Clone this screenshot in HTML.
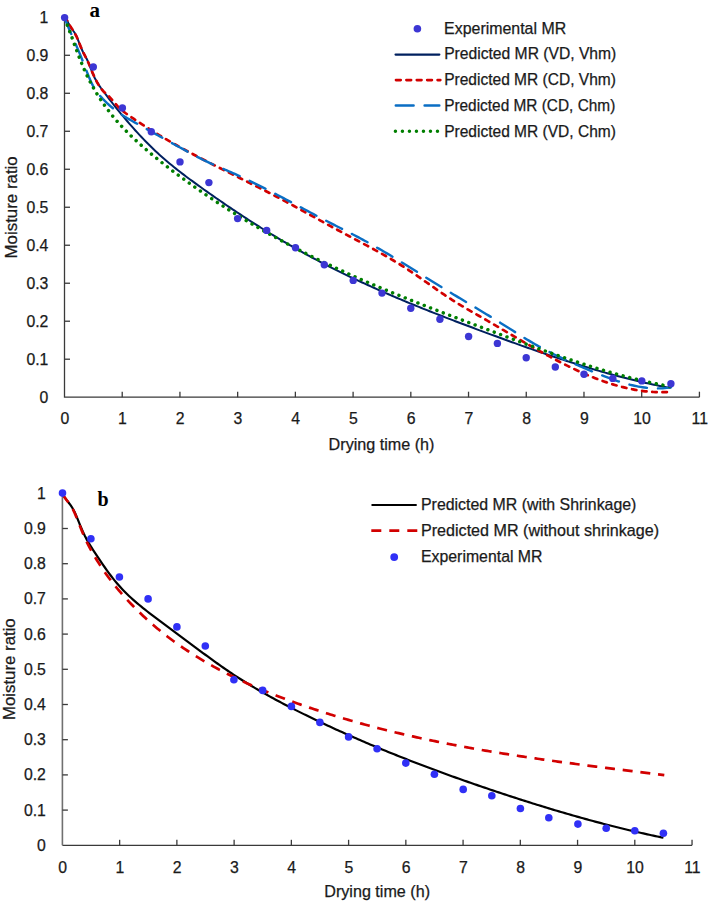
<!DOCTYPE html><html><head><meta charset="utf-8"><style>html,body{margin:0;padding:0;background:#fff;}svg{display:block}</style></head><body>
<svg width="709" height="903" viewBox="0 0 709 903">
<rect width="709" height="903" fill="#ffffff"/>
<g fill="none" stroke="#3a3a3a" stroke-width="1.3">
<path d="M64.5,17.30 V397.2 H699.42"/>
<path d="M64.5,359.21 h5.5"/>
<path d="M64.5,321.22 h5.5"/>
<path d="M64.5,283.23 h5.5"/>
<path d="M64.5,245.24 h5.5"/>
<path d="M64.5,207.25 h5.5"/>
<path d="M64.5,169.26 h5.5"/>
<path d="M64.5,131.27 h5.5"/>
<path d="M64.5,93.28 h5.5"/>
<path d="M64.5,55.29 h5.5"/>
<path d="M122.22,397.2 v-5.5"/>
<path d="M179.94,397.2 v-5.5"/>
<path d="M237.66,397.2 v-5.5"/>
<path d="M295.38,397.2 v-5.5"/>
<path d="M353.10,397.2 v-5.5"/>
<path d="M410.82,397.2 v-5.5"/>
<path d="M468.54,397.2 v-5.5"/>
<path d="M526.26,397.2 v-5.5"/>
<path d="M583.98,397.2 v-5.5"/>
<path d="M641.70,397.2 v-5.5"/>
<path d="M699.42,397.2 v-5.5"/>
</g>
<g font-family='"Liberation Sans", sans-serif' font-size="15.8" fill="#1a1a1a" stroke="#1a1a1a" stroke-width="0.25">
<text x="48.4" y="402.70" text-anchor="end">0</text>
<text x="48.4" y="364.71" text-anchor="end">0.1</text>
<text x="48.4" y="326.72" text-anchor="end">0.2</text>
<text x="48.4" y="288.73" text-anchor="end">0.3</text>
<text x="48.4" y="250.74" text-anchor="end">0.4</text>
<text x="48.4" y="212.75" text-anchor="end">0.5</text>
<text x="48.4" y="174.76" text-anchor="end">0.6</text>
<text x="48.4" y="136.77" text-anchor="end">0.7</text>
<text x="48.4" y="98.78" text-anchor="end">0.8</text>
<text x="48.4" y="60.79" text-anchor="end">0.9</text>
<text x="48.4" y="22.80" text-anchor="end">1</text>
<text x="64.80" y="424.4" text-anchor="middle">0</text>
<text x="122.52" y="424.4" text-anchor="middle">1</text>
<text x="180.24" y="424.4" text-anchor="middle">2</text>
<text x="237.96" y="424.4" text-anchor="middle">3</text>
<text x="295.68" y="424.4" text-anchor="middle">4</text>
<text x="353.40" y="424.4" text-anchor="middle">5</text>
<text x="411.12" y="424.4" text-anchor="middle">6</text>
<text x="468.84" y="424.4" text-anchor="middle">7</text>
<text x="526.56" y="424.4" text-anchor="middle">8</text>
<text x="584.28" y="424.4" text-anchor="middle">9</text>
<text x="642.00" y="424.4" text-anchor="middle">10</text>
<text x="699.72" y="424.4" text-anchor="middle">11</text>
</g>
<g font-family='"Liberation Sans", sans-serif' font-size="15.7" fill="#1a1a1a" stroke="#1a1a1a" stroke-width="0.25">
<text x="328.61" y="450.10" textLength="105.83" lengthAdjust="spacingAndGlyphs" >Drying time (h)</text>
<g transform="translate(16.9,257.1) rotate(-90)"><text x="-1.35" y="0.00" textLength="102.15" lengthAdjust="spacingAndGlyphs" >Moisture ratio</text></g>
</g>
<text x="89.6" y="17.3" font-family='"Liberation Serif", serif' font-weight="bold" font-size="21" fill="#000">a</text>
<path d="M64.50,17.46 L66.53,19.06 L68.55,23.54 L70.58,27.33 L72.60,30.02 L74.63,32.70 L76.65,36.45 L78.68,41.55 L80.70,46.89 L82.73,51.49 L84.75,55.30 L86.78,59.06 L88.80,63.41 L90.83,68.62 L92.85,73.79 L94.88,78.18 L96.90,81.88 L98.93,85.09 L100.95,87.97 L102.98,90.72 L105.00,93.44 L107.03,96.12 L109.05,98.77 L111.08,101.39 L113.10,103.99 L115.13,106.55 L117.15,109.08 L119.18,111.58 L121.20,114.05 L123.23,116.48 L125.25,118.89 L127.28,121.27 L129.30,123.61 L131.33,125.93 L133.35,128.21 L135.38,130.46 L137.40,132.68 L139.43,134.86 L141.45,137.01 L143.48,139.13 L145.50,141.22 L147.53,143.28 L149.55,145.30 L151.58,147.28 L153.60,149.23 L155.63,151.15 L157.65,153.04 L159.68,154.89 L161.70,156.70 L163.73,158.49 L165.75,160.24 L167.78,161.97 L169.80,163.67 L171.83,165.34 L173.85,166.98 L175.88,168.61 L177.90,170.21 L179.93,171.79 L181.95,173.36 L183.98,174.90 L186.01,176.43 L188.03,177.94 L190.06,179.45 L192.08,180.93 L194.11,182.41 L196.13,183.88 L198.16,185.34 L200.18,186.80 L202.21,188.25 L204.23,189.70 L206.26,191.13 L208.28,192.57 L210.31,194.00 L212.33,195.42 L214.36,196.83 L216.38,198.25 L218.41,199.65 L220.43,201.05 L222.46,202.44 L224.48,203.83 L226.51,205.21 L228.53,206.58 L230.56,207.95 L232.58,209.32 L234.61,210.67 L236.63,212.02 L238.66,213.37 L240.68,214.70 L242.71,216.04 L244.73,217.36 L246.76,218.68 L248.78,219.99 L250.81,221.30 L252.83,222.60 L254.86,223.89 L256.88,225.18 L258.91,226.46 L260.93,227.73 L262.96,228.99 L264.98,230.25 L267.01,231.51 L269.03,232.75 L271.06,233.99 L273.08,235.22 L275.11,236.45 L277.13,237.66 L279.16,238.87 L281.18,240.08 L283.21,241.27 L285.23,242.46 L287.26,243.64 L289.28,244.82 L291.31,245.98 L293.33,247.14 L295.36,248.30 L297.38,249.44 L299.41,250.58 L301.43,251.71 L303.46,252.83 L305.48,253.95 L307.51,255.05 L309.54,256.16 L311.56,257.25 L313.59,258.34 L315.61,259.42 L317.64,260.49 L319.66,261.55 L321.69,262.61 L323.71,263.67 L325.74,264.71 L327.76,265.75 L329.79,266.79 L331.81,267.81 L333.84,268.83 L335.86,269.85 L337.89,270.86 L339.91,271.86 L341.94,272.85 L343.96,273.84 L345.99,274.83 L348.01,275.81 L350.04,276.78 L352.06,277.75 L354.09,278.71 L356.11,279.66 L358.14,280.61 L360.16,281.56 L362.19,282.50 L364.21,283.43 L366.24,284.36 L368.26,285.28 L370.29,286.20 L372.31,287.12 L374.34,288.03 L376.36,288.93 L378.39,289.83 L380.41,290.73 L382.44,291.62 L384.46,292.50 L386.49,293.38 L388.51,294.26 L390.54,295.13 L392.56,296.00 L394.59,296.87 L396.61,297.73 L398.64,298.58 L400.66,299.43 L402.69,300.28 L404.71,301.13 L406.74,301.97 L408.76,302.80 L410.79,303.64 L412.81,304.47 L414.84,305.29 L416.86,306.12 L418.89,306.94 L420.91,307.75 L422.94,308.57 L424.96,309.38 L426.99,310.18 L429.02,310.99 L431.04,311.79 L433.07,312.59 L435.09,313.38 L437.12,314.17 L439.14,314.96 L441.17,315.75 L443.19,316.54 L445.22,317.32 L447.24,318.10 L449.27,318.88 L451.29,319.65 L453.32,320.43 L455.34,321.20 L457.37,321.97 L459.39,322.74 L461.42,323.50 L463.44,324.27 L465.47,325.03 L467.49,325.79 L469.52,326.55 L471.54,327.31 L473.57,328.06 L475.59,328.82 L477.62,329.57 L479.64,330.33 L481.67,331.08 L483.69,331.83 L485.72,332.58 L487.74,333.33 L489.77,334.07 L491.79,334.82 L493.82,335.56 L495.84,336.31 L497.87,337.05 L499.89,337.79 L501.92,338.53 L503.94,339.27 L505.97,340.00 L507.99,340.74 L510.02,341.47 L512.04,342.20 L514.07,342.93 L516.09,343.65 L518.12,344.38 L520.14,345.10 L522.17,345.82 L524.19,346.54 L526.22,347.25 L528.24,347.97 L530.27,348.68 L532.29,349.39 L534.32,350.09 L536.34,350.79 L538.37,351.49 L540.39,352.19 L542.42,352.89 L544.44,353.58 L546.47,354.27 L548.49,354.95 L550.52,355.63 L552.55,356.31 L554.57,356.99 L556.60,357.66 L558.62,358.33 L560.65,359.00 L562.67,359.66 L564.70,360.32 L566.72,360.97 L568.75,361.62 L570.77,362.27 L572.80,362.91 L574.82,363.55 L576.85,364.19 L578.87,364.82 L580.90,365.44 L582.92,366.07 L584.95,366.68 L586.97,367.30 L589.00,367.91 L591.02,368.51 L593.05,369.11 L595.07,369.71 L597.10,370.30 L599.12,370.89 L601.15,371.47 L603.17,372.04 L605.20,372.62 L607.22,373.18 L609.25,373.74 L611.27,374.30 L613.30,374.85 L615.32,375.40 L617.35,375.94 L619.37,376.47 L621.40,377.00 L623.42,377.53 L625.45,378.04 L627.47,378.56 L629.50,379.06 L631.52,379.56 L633.55,380.06 L635.57,380.55 L637.60,381.03 L639.62,381.51 L641.65,381.98 L643.67,382.44 L645.70,382.90 L647.72,383.35 L649.75,383.80 L651.77,384.23 L653.80,384.67 L655.82,385.09 L657.85,385.51 L659.87,385.92 L661.90,386.33 L663.92,386.72 L665.95,387.11 L667.97,387.50 L670.00,387.88" fill="none" stroke="#00205f" stroke-width="2.0" stroke-linecap="round"/>
<path d="M64.50,17.25 L66.53,19.51 L68.56,23.33 L70.59,26.85 L72.62,29.87 L74.65,32.95 L76.68,36.79 L78.72,41.63 L80.75,46.76 L82.78,51.42 L84.81,55.49 L86.84,59.43 L88.87,63.76 L90.90,68.72 L92.93,73.66 L94.96,78.07 L96.99,82.05 L99.02,85.62 L101.05,88.65 L103.08,91.00 L105.12,92.82 L107.15,94.57 L109.18,96.59 L111.21,98.85 L113.24,101.24 L115.27,103.64 L117.30,105.94 L119.33,108.02 L121.36,109.86 L123.39,111.51 L125.42,113.03 L127.45,114.47 L129.48,115.89 L131.52,117.30 L133.55,118.69 L135.58,120.07 L137.61,121.43 L139.64,122.78 L141.67,124.11 L143.70,125.43 L145.73,126.74 L147.76,128.04 L149.79,129.32 L151.82,130.59 L153.85,131.85 L155.88,133.10 L157.92,134.34 L159.95,135.56 L161.98,136.78 L164.01,137.98 L166.04,139.17 L168.07,140.36 L170.10,141.53 L172.13,142.70 L174.16,143.85 L176.19,145.00 L178.22,146.14 L180.25,147.27 L182.28,148.39 L184.32,149.50 L186.35,150.61 L188.38,151.71 L190.41,152.80 L192.44,153.89 L194.47,154.97 L196.50,156.04 L198.53,157.11 L200.56,158.17 L202.59,159.23 L204.62,160.28 L206.65,161.33 L208.68,162.38 L210.72,163.42 L212.75,164.45 L214.78,165.48 L216.81,166.51 L218.84,167.54 L220.87,168.56 L222.90,169.59 L224.93,170.61 L226.96,171.62 L228.99,172.64 L231.02,173.65 L233.05,174.67 L235.08,175.68 L237.12,176.69 L239.15,177.71 L241.18,178.72 L243.21,179.73 L245.24,180.75 L247.27,181.76 L249.30,182.78 L251.33,183.80 L253.36,184.82 L255.39,185.84 L257.42,186.87 L259.45,187.89 L261.48,188.92 L263.52,189.96 L265.55,190.99 L267.58,192.04 L269.61,193.08 L271.64,194.13 L273.67,195.18 L275.70,196.24 L277.73,197.31 L279.76,198.38 L281.79,199.45 L283.82,200.53 L285.85,201.62 L287.88,202.71 L289.92,203.81 L291.95,204.91 L293.98,206.02 L296.01,207.12 L298.04,208.24 L300.07,209.35 L302.10,210.47 L304.13,211.59 L306.16,212.71 L308.19,213.83 L310.22,214.95 L312.25,216.07 L314.28,217.20 L316.32,218.32 L318.35,219.44 L320.38,220.56 L322.41,221.68 L324.44,222.80 L326.47,223.92 L328.50,225.03 L330.53,226.14 L332.56,227.25 L334.59,228.36 L336.62,229.46 L338.65,230.55 L340.68,231.64 L342.72,232.73 L344.75,233.81 L346.78,234.89 L348.81,235.97 L350.84,237.05 L352.87,238.12 L354.90,239.19 L356.93,240.27 L358.96,241.34 L360.99,242.42 L363.02,243.50 L365.05,244.59 L367.08,245.67 L369.12,246.77 L371.15,247.86 L373.18,248.97 L375.21,250.08 L377.24,251.20 L379.27,252.33 L381.30,253.47 L383.33,254.61 L385.36,255.77 L387.39,256.94 L389.42,258.12 L391.45,259.32 L393.48,260.53 L395.52,261.75 L397.55,262.99 L399.58,264.24 L401.61,265.51 L403.64,266.80 L405.67,268.10 L407.70,269.43 L409.73,270.77 L411.76,272.13 L413.79,273.51 L415.82,274.90 L417.85,276.30 L419.88,277.72 L421.92,279.14 L423.95,280.56 L425.98,281.99 L428.01,283.42 L430.04,284.85 L432.07,286.28 L434.10,287.71 L436.13,289.13 L438.16,290.54 L440.19,291.94 L442.22,293.33 L444.25,294.71 L446.28,296.07 L448.32,297.41 L450.35,298.73 L452.38,300.04 L454.41,301.32 L456.44,302.58 L458.47,303.83 L460.50,305.07 L462.53,306.29 L464.56,307.49 L466.59,308.69 L468.62,309.88 L470.65,311.06 L472.68,312.24 L474.72,313.41 L476.75,314.58 L478.78,315.75 L480.81,316.91 L482.84,318.08 L484.87,319.26 L486.90,320.43 L488.93,321.61 L490.96,322.80 L492.99,323.98 L495.02,325.17 L497.05,326.36 L499.08,327.56 L501.12,328.75 L503.15,329.94 L505.18,331.14 L507.21,332.33 L509.24,333.53 L511.27,334.72 L513.30,335.91 L515.33,337.10 L517.36,338.29 L519.39,339.47 L521.42,340.66 L523.45,341.84 L525.48,343.01 L527.52,344.18 L529.55,345.35 L531.58,346.51 L533.61,347.67 L535.64,348.82 L537.67,349.97 L539.70,351.10 L541.73,352.24 L543.76,353.36 L545.79,354.48 L547.82,355.59 L549.85,356.68 L551.88,357.78 L553.92,358.86 L555.95,359.93 L557.98,360.99 L560.01,362.04 L562.04,363.08 L564.07,364.11 L566.10,365.13 L568.13,366.13 L570.16,367.12 L572.19,368.10 L574.22,369.07 L576.25,370.02 L578.28,370.96 L580.32,371.88 L582.35,372.79 L584.38,373.68 L586.41,374.56 L588.44,375.42 L590.47,376.26 L592.50,377.09 L594.53,377.90 L596.56,378.69 L598.59,379.47 L600.62,380.22 L602.65,380.96 L604.68,381.67 L606.72,382.37 L608.75,383.05 L610.78,383.70 L612.81,384.34 L614.84,384.95 L616.87,385.54 L618.90,386.11 L620.93,386.66 L622.96,387.18 L624.99,387.68 L627.02,388.16 L629.05,388.61 L631.08,389.03 L633.12,389.44 L635.15,389.81 L637.18,390.16 L639.21,390.49 L641.24,390.78 L643.27,391.05 L645.30,391.30 L647.33,391.51 L649.36,391.70 L651.39,391.86 L653.42,391.99 L655.45,392.08 L657.48,392.15 L659.52,392.19 L661.55,392.20 L663.58,392.18 L665.61,392.12 L667.64,392.04 L669.67,391.92 L671.70,391.77" fill="none" stroke="#d20000" stroke-width="2.7" stroke-dasharray="4.5 5.7" stroke-linecap="round"/>
<path d="M64.50,17.53 L66.53,22.75 L68.56,27.72 L70.58,32.50 L72.61,37.17 L74.64,41.78 L76.67,46.41 L78.70,51.13 L80.72,56.00 L82.75,61.10 L84.78,66.39 L86.81,71.68 L88.84,76.77 L90.87,81.48 L92.89,85.60 L94.92,89.07 L96.95,92.02 L98.98,94.59 L101.01,96.92 L103.03,99.11 L105.06,101.18 L107.09,103.14 L109.12,104.99 L111.15,106.75 L113.17,108.42 L115.20,110.01 L117.23,111.51 L119.26,112.95 L121.29,114.33 L123.31,115.66 L125.34,116.93 L127.37,118.16 L129.40,119.36 L131.43,120.54 L133.46,121.69 L135.48,122.83 L137.51,123.97 L139.54,125.10 L141.57,126.24 L143.60,127.37 L145.62,128.50 L147.65,129.63 L149.68,130.76 L151.71,131.89 L153.74,133.01 L155.76,134.14 L157.79,135.27 L159.82,136.39 L161.85,137.51 L163.88,138.63 L165.90,139.75 L167.93,140.87 L169.96,141.99 L171.99,143.11 L174.02,144.22 L176.05,145.33 L178.07,146.45 L180.10,147.56 L182.13,148.66 L184.16,149.77 L186.19,150.88 L188.21,151.98 L190.24,153.08 L192.27,154.18 L194.30,155.26 L196.33,156.34 L198.35,157.40 L200.38,158.44 L202.41,159.46 L204.44,160.46 L206.47,161.44 L208.49,162.39 L210.52,163.32 L212.55,164.23 L214.58,165.13 L216.61,166.01 L218.64,166.89 L220.66,167.76 L222.69,168.63 L224.72,169.50 L226.75,170.37 L228.78,171.25 L230.80,172.13 L232.83,173.03 L234.86,173.94 L236.89,174.86 L238.92,175.79 L240.94,176.73 L242.97,177.68 L245.00,178.64 L247.03,179.61 L249.06,180.59 L251.08,181.57 L253.11,182.57 L255.14,183.57 L257.17,184.57 L259.20,185.59 L261.23,186.61 L263.25,187.64 L265.28,188.67 L267.31,189.71 L269.34,190.75 L271.37,191.80 L273.39,192.85 L275.42,193.91 L277.45,194.97 L279.48,196.04 L281.51,197.11 L283.53,198.18 L285.56,199.25 L287.59,200.33 L289.62,201.40 L291.65,202.48 L293.67,203.56 L295.70,204.65 L297.73,205.73 L299.76,206.81 L301.79,207.89 L303.82,208.97 L305.84,210.05 L307.87,211.13 L309.90,212.21 L311.93,213.29 L313.96,214.36 L315.98,215.44 L318.01,216.51 L320.04,217.57 L322.07,218.64 L324.10,219.69 L326.12,220.75 L328.15,221.80 L330.18,222.85 L332.21,223.89 L334.24,224.92 L336.26,225.96 L338.29,226.99 L340.32,228.01 L342.35,229.04 L344.38,230.07 L346.41,231.11 L348.43,232.14 L350.46,233.18 L352.49,234.23 L354.52,235.28 L356.55,236.34 L358.57,237.42 L360.60,238.50 L362.63,239.59 L364.66,240.69 L366.69,241.80 L368.71,242.92 L370.74,244.05 L372.77,245.18 L374.80,246.33 L376.83,247.49 L378.85,248.65 L380.88,249.82 L382.91,251.00 L384.94,252.19 L386.97,253.39 L388.99,254.59 L391.02,255.80 L393.05,257.02 L395.08,258.25 L397.11,259.49 L399.14,260.73 L401.16,261.97 L403.19,263.22 L405.22,264.48 L407.25,265.74 L409.28,267.00 L411.30,268.27 L413.33,269.53 L415.36,270.80 L417.39,272.08 L419.42,273.35 L421.44,274.62 L423.47,275.90 L425.50,277.17 L427.53,278.44 L429.56,279.71 L431.58,280.98 L433.61,282.24 L435.64,283.50 L437.67,284.76 L439.70,286.02 L441.73,287.27 L443.75,288.51 L445.78,289.75 L447.81,290.98 L449.84,292.22 L451.87,293.44 L453.89,294.67 L455.92,295.89 L457.95,297.11 L459.98,298.33 L462.01,299.54 L464.03,300.76 L466.06,301.97 L468.09,303.19 L470.12,304.40 L472.15,305.62 L474.17,306.83 L476.20,308.05 L478.23,309.27 L480.26,310.49 L482.29,311.71 L484.32,312.94 L486.34,314.17 L488.37,315.40 L490.40,316.64 L492.43,317.89 L494.46,319.13 L496.48,320.39 L498.51,321.65 L500.54,322.91 L502.57,324.19 L504.60,325.46 L506.62,326.75 L508.65,328.03 L510.68,329.31 L512.71,330.60 L514.74,331.88 L516.76,333.16 L518.79,334.43 L520.82,335.69 L522.85,336.95 L524.88,338.20 L526.91,339.43 L528.93,340.65 L530.96,341.86 L532.99,343.04 L535.02,344.21 L537.05,345.37 L539.07,346.50 L541.10,347.61 L543.13,348.71 L545.16,349.79 L547.19,350.86 L549.21,351.91 L551.24,352.94 L553.27,353.96 L555.30,354.96 L557.33,355.95 L559.35,356.93 L561.38,357.89 L563.41,358.85 L565.44,359.79 L567.47,360.72 L569.50,361.64 L571.52,362.55 L573.55,363.46 L575.58,364.35 L577.61,365.24 L579.64,366.12 L581.66,366.99 L583.69,367.86 L585.72,368.72 L587.75,369.57 L589.78,370.42 L591.80,371.27 L593.83,372.11 L595.86,372.94 L597.89,373.77 L599.92,374.58 L601.94,375.39 L603.97,376.18 L606.00,376.96 L608.03,377.72 L610.06,378.47 L612.09,379.20 L614.11,379.91 L616.14,380.60 L618.17,381.27 L620.20,381.92 L622.23,382.55 L624.25,383.15 L626.28,383.73 L628.31,384.28 L630.34,384.80 L632.37,385.29 L634.39,385.75 L636.42,386.17 L638.45,386.57 L640.48,386.93 L642.51,387.25 L644.53,387.54 L646.56,387.79 L648.59,387.99 L650.62,388.16 L652.65,388.29 L654.68,388.37 L656.70,388.41 L658.73,388.40 L660.76,388.35 L662.79,388.25 L664.82,388.09 L666.84,387.89 L668.87,387.64 L670.90,387.33" fill="none" stroke="#0a6ec4" stroke-width="2.4" stroke-dasharray="17.8 11" stroke-linecap="round"/>
<path d="M64.80,18.84 L66.82,23.88 L68.85,29.17 L70.87,34.63 L72.90,40.18 L74.92,45.74 L76.94,51.23 L78.97,56.59 L80.99,61.75 L83.02,66.65 L85.04,71.27 L87.06,75.63 L89.09,79.75 L91.11,83.65 L93.14,87.35 L95.16,90.86 L97.19,94.22 L99.21,97.42 L101.23,100.51 L103.26,103.48 L105.28,106.35 L107.31,109.12 L109.33,111.80 L111.35,114.38 L113.38,116.89 L115.40,119.31 L117.43,121.65 L119.45,123.93 L121.47,126.14 L123.50,128.29 L125.52,130.38 L127.55,132.42 L129.57,134.42 L131.59,136.37 L133.62,138.29 L135.64,140.17 L137.67,142.03 L139.69,143.86 L141.72,145.67 L143.74,147.46 L145.76,149.23 L147.79,150.98 L149.81,152.70 L151.84,154.41 L153.86,156.10 L155.88,157.77 L157.91,159.42 L159.93,161.05 L161.96,162.67 L163.98,164.27 L166.00,165.86 L168.03,167.43 L170.05,168.98 L172.08,170.53 L174.10,172.06 L176.12,173.57 L178.15,175.08 L180.17,176.57 L182.20,178.06 L184.22,179.53 L186.24,181.00 L188.27,182.45 L190.29,183.90 L192.32,185.34 L194.34,186.77 L196.37,188.19 L198.39,189.60 L200.41,191.00 L202.44,192.39 L204.46,193.78 L206.49,195.16 L208.51,196.52 L210.53,197.88 L212.56,199.24 L214.58,200.58 L216.61,201.92 L218.63,203.24 L220.65,204.56 L222.68,205.87 L224.70,207.18 L226.73,208.47 L228.75,209.76 L230.77,211.04 L232.80,212.31 L234.82,213.57 L236.85,214.83 L238.87,216.08 L240.89,217.32 L242.92,218.55 L244.94,219.78 L246.97,221.00 L248.99,222.21 L251.02,223.41 L253.04,224.61 L255.06,225.80 L257.09,226.98 L259.11,228.16 L261.14,229.32 L263.16,230.49 L265.18,231.64 L267.21,232.79 L269.23,233.93 L271.26,235.06 L273.28,236.19 L275.30,237.31 L277.33,238.42 L279.35,239.53 L281.38,240.63 L283.40,241.73 L285.42,242.82 L287.45,243.90 L289.47,244.98 L291.50,246.04 L293.52,247.11 L295.55,248.17 L297.57,249.22 L299.59,250.26 L301.62,251.30 L303.64,252.34 L305.67,253.36 L307.69,254.39 L309.71,255.40 L311.74,256.41 L313.76,257.42 L315.79,258.42 L317.81,259.41 L319.83,260.40 L321.86,261.39 L323.88,262.36 L325.91,263.34 L327.93,264.30 L329.95,265.27 L331.98,266.22 L334.00,267.18 L336.03,268.12 L338.05,269.07 L340.07,270.00 L342.10,270.94 L344.12,271.87 L346.15,272.79 L348.17,273.71 L350.20,274.62 L352.22,275.53 L354.24,276.44 L356.27,277.34 L358.29,278.23 L360.32,279.13 L362.34,280.01 L364.36,280.90 L366.39,281.78 L368.41,282.65 L370.44,283.52 L372.46,284.39 L374.48,285.26 L376.51,286.12 L378.53,286.97 L380.56,287.82 L382.58,288.67 L384.60,289.52 L386.63,290.36 L388.65,291.20 L390.68,292.04 L392.70,292.87 L394.73,293.70 L396.75,294.53 L398.77,295.35 L400.80,296.17 L402.82,296.99 L404.85,297.80 L406.87,298.62 L408.89,299.43 L410.92,300.24 L412.94,301.04 L414.97,301.84 L416.99,302.64 L419.01,303.44 L421.04,304.24 L423.06,305.03 L425.09,305.82 L427.11,306.61 L429.13,307.40 L431.16,308.19 L433.18,308.97 L435.21,309.75 L437.23,310.54 L439.25,311.31 L441.28,312.09 L443.30,312.87 L445.33,313.65 L447.35,314.42 L449.38,315.19 L451.40,315.96 L453.42,316.74 L455.45,317.51 L457.47,318.27 L459.50,319.04 L461.52,319.81 L463.54,320.58 L465.57,321.34 L467.59,322.11 L469.62,322.87 L471.64,323.64 L473.66,324.40 L475.69,325.17 L477.71,325.93 L479.74,326.70 L481.76,327.46 L483.78,328.22 L485.81,328.99 L487.83,329.75 L489.86,330.52 L491.88,331.28 L493.91,332.04 L495.93,332.81 L497.95,333.57 L499.98,334.33 L502.00,335.10 L504.03,335.86 L506.05,336.62 L508.07,337.38 L510.10,338.13 L512.12,338.89 L514.15,339.65 L516.17,340.40 L518.19,341.16 L520.22,341.91 L522.24,342.66 L524.27,343.41 L526.29,344.15 L528.31,344.90 L530.34,345.64 L532.36,346.38 L534.39,347.12 L536.41,347.85 L538.43,348.59 L540.46,349.32 L542.48,350.05 L544.51,350.77 L546.53,351.50 L548.56,352.22 L550.58,352.93 L552.60,353.65 L554.63,354.36 L556.65,355.07 L558.68,355.77 L560.70,356.47 L562.72,357.17 L564.75,357.86 L566.77,358.55 L568.80,359.24 L570.82,359.92 L572.84,360.60 L574.87,361.27 L576.89,361.94 L578.92,362.61 L580.94,363.27 L582.96,363.93 L584.99,364.58 L587.01,365.22 L589.04,365.87 L591.06,366.50 L593.08,367.14 L595.11,367.76 L597.13,368.38 L599.16,369.00 L601.18,369.61 L603.21,370.22 L605.23,370.82 L607.25,371.41 L609.28,372.00 L611.30,372.58 L613.33,373.16 L615.35,373.73 L617.37,374.29 L619.40,374.85 L621.42,375.40 L623.45,375.95 L625.47,376.49 L627.49,377.02 L629.52,377.54 L631.54,378.06 L633.57,378.57 L635.59,379.08 L637.61,379.57 L639.64,380.06 L641.66,380.54 L643.69,381.02 L645.71,381.49 L647.74,381.95 L649.76,382.40 L651.78,382.84 L653.81,383.28 L655.83,383.70 L657.86,384.12 L659.88,384.54 L661.90,384.94 L663.93,385.33 L665.95,385.72 L667.98,386.10 L670.00,386.46" fill="none" stroke="#007f00" stroke-width="3.5" stroke-dasharray="0.01 6.8" stroke-linecap="round"/>
<circle cx="64.6" cy="17.6" r="3.7" fill="#3c36d4"/>
<circle cx="93.3" cy="67" r="3.7" fill="#3c36d4"/>
<circle cx="122.4" cy="108" r="3.7" fill="#3c36d4"/>
<circle cx="151.3" cy="131.8" r="3.7" fill="#3c36d4"/>
<circle cx="180" cy="161.9" r="3.7" fill="#3c36d4"/>
<circle cx="208.9" cy="182.6" r="3.7" fill="#3c36d4"/>
<circle cx="237.6" cy="218.6" r="3.7" fill="#3c36d4"/>
<circle cx="266.7" cy="230.4" r="3.7" fill="#3c36d4"/>
<circle cx="295.5" cy="247.7" r="3.7" fill="#3c36d4"/>
<circle cx="324.3" cy="264.8" r="3.7" fill="#3c36d4"/>
<circle cx="353.2" cy="280.4" r="3.7" fill="#3c36d4"/>
<circle cx="382" cy="293.1" r="3.7" fill="#3c36d4"/>
<circle cx="410.8" cy="308.3" r="3.7" fill="#3c36d4"/>
<circle cx="439.9" cy="319.3" r="3.7" fill="#3c36d4"/>
<circle cx="468.6" cy="336.5" r="3.7" fill="#3c36d4"/>
<circle cx="497.4" cy="343.4" r="3.7" fill="#3c36d4"/>
<circle cx="526.2" cy="357.7" r="3.7" fill="#3c36d4"/>
<circle cx="555.3" cy="367" r="3.7" fill="#3c36d4"/>
<circle cx="584" cy="374.2" r="3.7" fill="#3c36d4"/>
<circle cx="612.8" cy="378.4" r="3.7" fill="#3c36d4"/>
<circle cx="641.8" cy="380.9" r="3.7" fill="#3c36d4"/>
<circle cx="670.9" cy="383.8" r="3.7" fill="#3c36d4"/>
<circle cx="417.4" cy="28.8" r="3.8" fill="#3c36d4"/>
<path d="M395.5,54.6 H439.4" stroke="#00205f" stroke-width="2.1" stroke-linecap="round"/>
<path d="M396,80.1 H440.3" stroke="#d20000" stroke-width="2.7" stroke-dasharray="4.7 5.7" stroke-linecap="round"/>
<path d="M395.8,105.5 H439.3" stroke="#0a6ec4" stroke-width="2.5" stroke-dasharray="17.8 11" stroke-linecap="round"/>
<path d="M395.4,131.3 H440.3" stroke="#007f00" stroke-width="3.5" stroke-dasharray="0.01 7" stroke-linecap="round"/>
<g font-family='"Liberation Sans", sans-serif' font-size="15.7" fill="#1a1a1a" stroke="#1a1a1a" stroke-width="0.25">
<text x="444.13" y="33.90" textLength="122.01" lengthAdjust="spacingAndGlyphs" >Experimental MR</text>
<text x="444.15" y="59.30" textLength="172.19" lengthAdjust="spacingAndGlyphs" >Predicted MR (VD, Vhm)</text>
<text x="444.16" y="85.10" textLength="171.79" lengthAdjust="spacingAndGlyphs" >Predicted MR (CD, Vhm)</text>
<text x="444.17" y="110.90" textLength="171.15" lengthAdjust="spacingAndGlyphs" >Predicted MR (CD, Chm)</text>
<text x="444.16" y="136.70" textLength="171.79" lengthAdjust="spacingAndGlyphs" >Predicted MR (VD, Chm)</text>
</g>
<g fill="none" stroke="#3a3a3a" stroke-width="1.3">
<path d="M62.4,845.3 H692.04"/>
<path d="M62.4,493.30 V845.3" stroke="#707070" stroke-width="1.6"/>
<path d="M62.4,810.10 h5.5"/>
<path d="M62.4,774.90 h5.5"/>
<path d="M62.4,739.70 h5.5"/>
<path d="M62.4,704.50 h5.5"/>
<path d="M62.4,669.30 h5.5"/>
<path d="M62.4,634.10 h5.5"/>
<path d="M62.4,598.90 h5.5"/>
<path d="M62.4,563.70 h5.5"/>
<path d="M62.4,528.50 h5.5"/>
<path d="M119.64,845.3 v-5.5"/>
<path d="M176.88,845.3 v-5.5"/>
<path d="M234.12,845.3 v-5.5"/>
<path d="M291.36,845.3 v-5.5"/>
<path d="M348.60,845.3 v-5.5"/>
<path d="M405.84,845.3 v-5.5"/>
<path d="M463.08,845.3 v-5.5"/>
<path d="M520.32,845.3 v-5.5"/>
<path d="M577.56,845.3 v-5.5"/>
<path d="M634.80,845.3 v-5.5"/>
<path d="M692.04,845.3 v-5.5"/>
</g>
<g font-family='"Liberation Sans", sans-serif' font-size="15.8" fill="#1a1a1a" stroke="#1a1a1a" stroke-width="0.25">
<text x="45.9" y="850.80" text-anchor="end">0</text>
<text x="45.9" y="815.60" text-anchor="end">0.1</text>
<text x="45.9" y="780.40" text-anchor="end">0.2</text>
<text x="45.9" y="745.20" text-anchor="end">0.3</text>
<text x="45.9" y="710.00" text-anchor="end">0.4</text>
<text x="45.9" y="674.80" text-anchor="end">0.5</text>
<text x="45.9" y="639.60" text-anchor="end">0.6</text>
<text x="45.9" y="604.40" text-anchor="end">0.7</text>
<text x="45.9" y="569.20" text-anchor="end">0.8</text>
<text x="45.9" y="534.00" text-anchor="end">0.9</text>
<text x="45.9" y="498.80" text-anchor="end">1</text>
<text x="62.70" y="872.5" text-anchor="middle">0</text>
<text x="119.94" y="872.5" text-anchor="middle">1</text>
<text x="177.18" y="872.5" text-anchor="middle">2</text>
<text x="234.42" y="872.5" text-anchor="middle">3</text>
<text x="291.66" y="872.5" text-anchor="middle">4</text>
<text x="348.90" y="872.5" text-anchor="middle">5</text>
<text x="406.14" y="872.5" text-anchor="middle">6</text>
<text x="463.38" y="872.5" text-anchor="middle">7</text>
<text x="520.62" y="872.5" text-anchor="middle">8</text>
<text x="577.86" y="872.5" text-anchor="middle">9</text>
<text x="635.10" y="872.5" text-anchor="middle">10</text>
<text x="692.34" y="872.5" text-anchor="middle">11</text>
</g>
<g font-family='"Liberation Sans", sans-serif' font-size="15.7" fill="#1a1a1a" stroke="#1a1a1a" stroke-width="0.25">
<text x="324.31" y="896.50" textLength="105.73" lengthAdjust="spacingAndGlyphs" >Drying time (h)</text>
<g transform="translate(15.0,718.7) rotate(-90)"><text x="-1.34" y="0.00" textLength="101.74" lengthAdjust="spacingAndGlyphs" >Moisture ratio</text></g>
</g>
<text x="97.4" y="505.9" font-family='"Liberation Serif", serif' font-weight="bold" font-size="20" fill="#000">b</text>
<path d="M62.70,494.25 L64.71,497.46 L66.72,500.18 L68.73,502.72 L70.74,505.39 L72.75,508.51 L74.75,512.34 L76.76,516.85 L78.77,521.79 L80.78,526.80 L82.79,531.49 L84.80,535.74 L86.81,539.61 L88.82,543.14 L90.83,546.42 L92.84,549.57 L94.84,552.66 L96.85,555.71 L98.86,558.73 L100.87,561.71 L102.88,564.63 L104.89,567.50 L106.90,570.31 L108.91,573.06 L110.92,575.73 L112.93,578.32 L114.93,580.82 L116.94,583.24 L118.95,585.56 L120.96,587.79 L122.97,589.93 L124.98,592.00 L126.99,593.99 L129.00,595.92 L131.01,597.79 L133.02,599.60 L135.03,601.36 L137.03,603.08 L139.04,604.77 L141.05,606.42 L143.06,608.05 L145.07,609.65 L147.08,611.24 L149.09,612.81 L151.10,614.37 L153.11,615.91 L155.12,617.44 L157.12,618.95 L159.13,620.46 L161.14,621.96 L163.15,623.45 L165.16,624.93 L167.17,626.41 L169.18,627.89 L171.19,629.37 L173.20,630.85 L175.21,632.33 L177.21,633.81 L179.22,635.30 L181.23,636.79 L183.24,638.28 L185.25,639.78 L187.26,641.28 L189.27,642.78 L191.28,644.29 L193.29,645.79 L195.30,647.29 L197.31,648.79 L199.31,650.29 L201.32,651.78 L203.33,653.27 L205.34,654.75 L207.35,656.23 L209.36,657.70 L211.37,659.17 L213.38,660.62 L215.39,662.07 L217.40,663.51 L219.40,664.94 L221.41,666.35 L223.42,667.76 L225.43,669.15 L227.44,670.52 L229.45,671.88 L231.46,673.23 L233.47,674.56 L235.48,675.88 L237.49,677.19 L239.49,678.48 L241.50,679.75 L243.51,681.02 L245.52,682.27 L247.53,683.51 L249.54,684.73 L251.55,685.95 L253.56,687.15 L255.57,688.34 L257.58,689.52 L259.58,690.68 L261.59,691.84 L263.60,692.99 L265.61,694.12 L267.62,695.25 L269.63,696.36 L271.64,697.47 L273.65,698.57 L275.66,699.66 L277.67,700.74 L279.68,701.81 L281.68,702.87 L283.69,703.93 L285.70,704.98 L287.71,706.02 L289.72,707.05 L291.73,708.08 L293.74,709.10 L295.75,710.12 L297.76,711.12 L299.77,712.13 L301.77,713.13 L303.78,714.12 L305.79,715.11 L307.80,716.09 L309.81,717.07 L311.82,718.04 L313.83,719.01 L315.84,719.98 L317.85,720.94 L319.86,721.89 L321.86,722.84 L323.87,723.79 L325.88,724.73 L327.89,725.67 L329.90,726.60 L331.91,727.53 L333.92,728.46 L335.93,729.38 L337.94,730.29 L339.95,731.21 L341.96,732.11 L343.96,733.02 L345.97,733.92 L347.98,734.81 L349.99,735.70 L352.00,736.59 L354.01,737.47 L356.02,738.35 L358.03,739.23 L360.04,740.10 L362.05,740.97 L364.05,741.83 L366.06,742.69 L368.07,743.55 L370.08,744.40 L372.09,745.25 L374.10,746.09 L376.11,746.93 L378.12,747.77 L380.13,748.60 L382.14,749.43 L384.14,750.26 L386.15,751.08 L388.16,751.90 L390.17,752.72 L392.18,753.53 L394.19,754.34 L396.20,755.14 L398.21,755.95 L400.22,756.75 L402.23,757.54 L404.24,758.33 L406.24,759.12 L408.25,759.91 L410.26,760.69 L412.27,761.47 L414.28,762.25 L416.29,763.02 L418.30,763.79 L420.31,764.56 L422.32,765.32 L424.33,766.08 L426.33,766.84 L428.34,767.59 L430.35,768.34 L432.36,769.09 L434.37,769.84 L436.38,770.58 L438.39,771.32 L440.40,772.06 L442.41,772.80 L444.42,773.53 L446.42,774.26 L448.43,774.99 L450.44,775.71 L452.45,776.43 L454.46,777.15 L456.47,777.87 L458.48,778.58 L460.49,779.29 L462.50,780.00 L464.51,780.71 L466.52,781.41 L468.52,782.12 L470.53,782.82 L472.54,783.51 L474.55,784.21 L476.56,784.90 L478.57,785.59 L480.58,786.28 L482.59,786.97 L484.60,787.65 L486.61,788.33 L488.61,789.01 L490.62,789.69 L492.63,790.37 L494.64,791.04 L496.65,791.71 L498.66,792.38 L500.67,793.05 L502.68,793.72 L504.69,794.38 L506.70,795.04 L508.70,795.70 L510.71,796.36 L512.72,797.01 L514.73,797.67 L516.74,798.32 L518.75,798.96 L520.76,799.61 L522.77,800.25 L524.78,800.89 L526.79,801.53 L528.79,802.17 L530.80,802.80 L532.81,803.43 L534.82,804.06 L536.83,804.68 L538.84,805.30 L540.85,805.92 L542.86,806.54 L544.87,807.16 L546.88,807.77 L548.89,808.38 L550.89,808.98 L552.90,809.59 L554.91,810.19 L556.92,810.79 L558.93,811.38 L560.94,811.98 L562.95,812.56 L564.96,813.15 L566.97,813.73 L568.98,814.31 L570.98,814.89 L572.99,815.47 L575.00,816.04 L577.01,816.61 L579.02,817.17 L581.03,817.73 L583.04,818.29 L585.05,818.85 L587.06,819.40 L589.07,819.95 L591.07,820.49 L593.08,821.04 L595.09,821.58 L597.10,822.11 L599.11,822.64 L601.12,823.17 L603.13,823.70 L605.14,824.22 L607.15,824.74 L609.16,825.25 L611.17,825.77 L613.17,826.27 L615.18,826.78 L617.19,827.28 L619.20,827.78 L621.21,828.27 L623.22,828.76 L625.23,829.24 L627.24,829.73 L629.25,830.20 L631.26,830.68 L633.26,831.15 L635.27,831.62 L637.28,832.08 L639.29,832.54 L641.30,832.99 L643.31,833.44 L645.32,833.89 L647.33,834.33 L649.34,834.77 L651.35,835.21 L653.35,835.64 L655.36,836.07 L657.37,836.49 L659.38,836.91 L661.39,837.32 L663.40,837.73" fill="none" stroke="#000" stroke-width="2.2"/>
<path d="M62.70,494.23 L64.71,497.46 L66.72,500.21 L68.74,502.82 L70.75,505.64 L72.76,509.02 L74.77,513.25 L76.78,518.13 L78.80,523.20 L80.81,528.24 L82.82,533.15 L84.83,537.83 L86.84,542.20 L88.86,546.20 L90.87,549.91 L92.88,553.44 L94.89,556.87 L96.90,560.18 L98.92,563.38 L100.93,566.49 L102.94,569.50 L104.95,572.42 L106.96,575.25 L108.98,578.00 L110.99,580.66 L113.00,583.26 L115.01,585.78 L117.03,588.24 L119.04,590.64 L121.05,592.98 L123.06,595.27 L125.07,597.51 L127.09,599.70 L129.10,601.86 L131.11,603.98 L133.12,606.06 L135.13,608.10 L137.15,610.12 L139.16,612.09 L141.17,614.03 L143.18,615.94 L145.19,617.82 L147.21,619.66 L149.22,621.47 L151.23,623.25 L153.24,625.00 L155.25,626.72 L157.27,628.42 L159.28,630.08 L161.29,631.72 L163.30,633.32 L165.31,634.91 L167.33,636.46 L169.34,638.00 L171.35,639.50 L173.36,640.99 L175.37,642.45 L177.39,643.88 L179.40,645.30 L181.41,646.69 L183.42,648.06 L185.43,649.42 L187.45,650.75 L189.46,652.07 L191.47,653.36 L193.48,654.64 L195.49,655.90 L197.51,657.15 L199.52,658.38 L201.53,659.59 L203.54,660.79 L205.55,661.98 L207.57,663.14 L209.58,664.30 L211.59,665.43 L213.60,666.56 L215.62,667.67 L217.63,668.76 L219.64,669.84 L221.65,670.91 L223.66,671.96 L225.68,673.00 L227.69,674.03 L229.70,675.05 L231.71,676.05 L233.72,677.04 L235.74,678.02 L237.75,678.99 L239.76,679.94 L241.77,680.88 L243.78,681.82 L245.80,682.74 L247.81,683.65 L249.82,684.55 L251.83,685.44 L253.84,686.32 L255.86,687.19 L257.87,688.06 L259.88,688.91 L261.89,689.75 L263.90,690.59 L265.92,691.41 L267.93,692.23 L269.94,693.04 L271.95,693.84 L273.96,694.64 L275.98,695.43 L277.99,696.21 L280.00,696.98 L282.01,697.75 L284.02,698.51 L286.04,699.26 L288.05,700.01 L290.06,700.75 L292.07,701.49 L294.08,702.22 L296.10,702.94 L298.11,703.66 L300.12,704.37 L302.13,705.08 L304.14,705.79 L306.16,706.48 L308.17,707.17 L310.18,707.86 L312.19,708.54 L314.21,709.22 L316.22,709.89 L318.23,710.55 L320.24,711.21 L322.25,711.87 L324.27,712.51 L326.28,713.16 L328.29,713.80 L330.30,714.43 L332.31,715.06 L334.33,715.68 L336.34,716.30 L338.35,716.92 L340.36,717.52 L342.37,718.13 L344.39,718.73 L346.40,719.32 L348.41,719.91 L350.42,720.49 L352.43,721.07 L354.45,721.65 L356.46,722.22 L358.47,722.79 L360.48,723.35 L362.49,723.90 L364.51,724.46 L366.52,725.00 L368.53,725.55 L370.54,726.09 L372.55,726.62 L374.57,727.15 L376.58,727.68 L378.59,728.20 L380.60,728.71 L382.61,729.23 L384.63,729.74 L386.64,730.24 L388.65,730.74 L390.66,731.24 L392.67,731.73 L394.69,732.22 L396.70,732.70 L398.71,733.18 L400.72,733.66 L402.73,734.13 L404.75,734.60 L406.76,735.07 L408.77,735.53 L410.78,735.98 L412.79,736.44 L414.81,736.89 L416.82,737.33 L418.83,737.78 L420.84,738.22 L422.86,738.65 L424.87,739.08 L426.88,739.51 L428.89,739.94 L430.90,740.36 L432.92,740.78 L434.93,741.19 L436.94,741.61 L438.95,742.01 L440.96,742.42 L442.98,742.82 L444.99,743.22 L447.00,743.62 L449.01,744.01 L451.02,744.40 L453.04,744.79 L455.05,745.17 L457.06,745.55 L459.07,745.93 L461.08,746.30 L463.10,746.67 L465.11,747.04 L467.12,747.41 L469.13,747.77 L471.14,748.13 L473.16,748.49 L475.17,748.85 L477.18,749.20 L479.19,749.55 L481.20,749.90 L483.22,750.24 L485.23,750.59 L487.24,750.93 L489.25,751.26 L491.26,751.60 L493.28,751.93 L495.29,752.26 L497.30,752.59 L499.31,752.92 L501.32,753.24 L503.34,753.56 L505.35,753.88 L507.36,754.20 L509.37,754.51 L511.38,754.83 L513.40,755.14 L515.41,755.45 L517.42,755.76 L519.43,756.06 L521.45,756.36 L523.46,756.67 L525.47,756.97 L527.48,757.26 L529.49,757.56 L531.51,757.85 L533.52,758.15 L535.53,758.44 L537.54,758.73 L539.55,759.02 L541.57,759.30 L543.58,759.59 L545.59,759.87 L547.60,760.15 L549.61,760.43 L551.63,760.71 L553.64,760.99 L555.65,761.27 L557.66,761.54 L559.67,761.82 L561.69,762.09 L563.70,762.36 L565.71,762.63 L567.72,762.90 L569.73,763.17 L571.75,763.44 L573.76,763.70 L575.77,763.97 L577.78,764.23 L579.79,764.50 L581.81,764.76 L583.82,765.02 L585.83,765.28 L587.84,765.54 L589.85,765.80 L591.87,766.06 L593.88,766.32 L595.89,766.58 L597.90,766.83 L599.91,767.09 L601.93,767.35 L603.94,767.60 L605.95,767.86 L607.96,768.11 L609.97,768.36 L611.99,768.62 L614.00,768.87 L616.01,769.13 L618.02,769.38 L620.04,769.63 L622.05,769.88 L624.06,770.13 L626.07,770.39 L628.08,770.64 L630.10,770.89 L632.11,771.14 L634.12,771.39 L636.13,771.65 L638.14,771.90 L640.16,772.15 L642.17,772.40 L644.18,772.66 L646.19,772.91 L648.20,773.16 L650.22,773.41 L652.23,773.67 L654.24,773.92 L656.25,774.18 L658.26,774.43 L660.28,774.69 L662.29,774.94 L664.30,775.20" fill="none" stroke="#d20000" stroke-width="2.7" stroke-dasharray="10 7.8"/>
<circle cx="62.5" cy="493.1" r="3.8" fill="#3030f6"/>
<circle cx="90.9" cy="538.7" r="3.8" fill="#3030f6"/>
<circle cx="119.4" cy="577" r="3.8" fill="#3030f6"/>
<circle cx="148.1" cy="598.9" r="3.8" fill="#3030f6"/>
<circle cx="176.9" cy="626.9" r="3.8" fill="#3030f6"/>
<circle cx="205.3" cy="646" r="3.8" fill="#3030f6"/>
<circle cx="233.9" cy="679.8" r="3.8" fill="#3030f6"/>
<circle cx="262.7" cy="690.4" r="3.8" fill="#3030f6"/>
<circle cx="291.4" cy="706.4" r="3.8" fill="#3030f6"/>
<circle cx="319.9" cy="722.4" r="3.8" fill="#3030f6"/>
<circle cx="348.6" cy="736.9" r="3.8" fill="#3030f6"/>
<circle cx="377.1" cy="748.7" r="3.8" fill="#3030f6"/>
<circle cx="405.8" cy="763.1" r="3.8" fill="#3030f6"/>
<circle cx="434.4" cy="774.3" r="3.8" fill="#3030f6"/>
<circle cx="463.2" cy="789.4" r="3.8" fill="#3030f6"/>
<circle cx="491.8" cy="795.7" r="3.8" fill="#3030f6"/>
<circle cx="520.4" cy="808.5" r="3.8" fill="#3030f6"/>
<circle cx="548.8" cy="817.7" r="3.8" fill="#3030f6"/>
<circle cx="577.9" cy="824.1" r="3.8" fill="#3030f6"/>
<circle cx="606.2" cy="828.2" r="3.8" fill="#3030f6"/>
<circle cx="634.8" cy="830.7" r="3.8" fill="#3030f6"/>
<circle cx="663.4" cy="833.2" r="3.8" fill="#3030f6"/>
<path d="M371.5,504.9 H416.7" stroke="#000" stroke-width="2"/>
<path d="M371.3,530.6 H417.3" stroke="#d20000" stroke-width="2.6" stroke-dasharray="10 8"/>
<circle cx="394.2" cy="557.1" r="3.9" fill="#3030f6"/>
<g font-family='"Liberation Sans", sans-serif' font-size="15.7" fill="#1a1a1a" stroke="#1a1a1a" stroke-width="0.25">
<text x="421.03" y="509.80" textLength="215.39" lengthAdjust="spacingAndGlyphs" >Predicted MR (with Shrinkage)</text>
<text x="421.01" y="535.60" textLength="238.08" lengthAdjust="spacingAndGlyphs" >Predicted MR (without shrinkage)</text>
<text x="421.03" y="561.90" textLength="121.50" lengthAdjust="spacingAndGlyphs" >Experimental MR</text>
</g>
</svg></body></html>
